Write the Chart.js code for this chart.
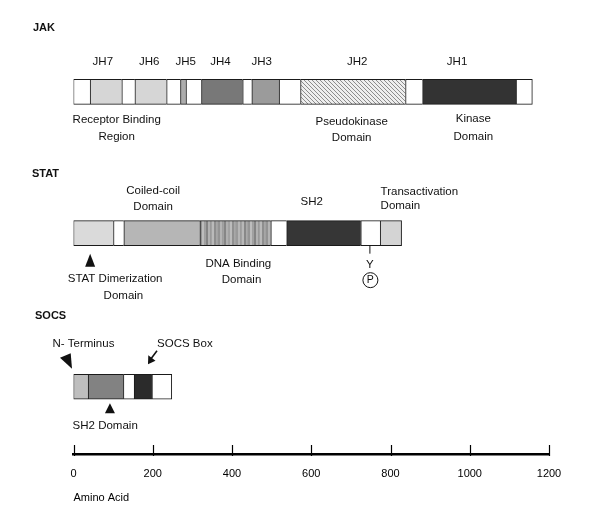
<!DOCTYPE html>
<html>
<head>
<meta charset="utf-8">
<script src="https://cdn.jsdelivr.net/npm/chart.js@4/dist/chart.umd.min.js"></script>
<style>
	html, body { margin:0; padding:0; background:#fff; }
	#wrap { position:relative; width:600px; height:516px; }
</style>
</head>
<body>
<div id="wrap"><canvas id="chart"></canvas></div>
<script>
// proteins and where each row sits on the (hidden) vertical scale
var proteins = ['JAK', 'STAT', 'SOCS'];
var rowPos   = [20.2, 51.3, 85.1];

// domain boundaries in amino acids, one domain name per segment ('' = linker)
var jakBounds  = [0, 42, 122, 155, 235, 270, 284, 323, 427, 450, 519, 573, 838, 881, 1117, 1158];
var jakDomains = ['', 'JH7', '', 'JH6', '', 'JH5', '', 'JH4', '', 'JH3', '', 'JH2', '', 'JH1', ''];

var statBounds  = [0, 101, 127, 319, 498, 538, 725, 774, 828];
var statDomains = ['Dimerization', '', 'Coiled-coil', 'DNA binding', '', 'SH2', '', 'Transactivation'];

var socsBounds  = [0, 37, 126, 153, 198, 248];
var socsDomains = ['N-terminus', 'SH2 domain', '', 'SOCS box', ''];

var axisMax  = 1200;
var axisStep = 200;

// ---------------------------------------------------------------

var FONT = '"Liberation Sans", Arial, sans-serif';

function hatchPattern(){
	var c = document.createElement('canvas'); c.width = 4; c.height = 4;
	var g = c.getContext('2d');
	g.fillStyle = '#eeeeee'; g.fillRect(0, 0, 4, 4);
	g.strokeStyle = '#8c8c8c'; g.lineWidth = 1;
	g.beginPath();
	g.moveTo(-1, -1); g.lineTo(5, 5);
	g.moveTo(-1, 3); g.lineTo(1, 5);
	g.moveTo(3, -1); g.lineTo(5, 1);
	g.stroke();
	return g.createPattern(c, 'repeat');
}

function stripePattern(){
	// irregular vertical stripes like the DNA binding box
	var cols = ['#9c9c9c','#b8b8b8','#888888','#aaaaaa','#959595','#bdbdbd','#a0a0a0','#848484',
				'#b2b2b2','#999999','#bababa','#8e8e8e','#a6a6a6','#939393','#b4b4b4','#9e9e9e',
				'#868686','#b0b0b0','#a2a2a2','#bcbcbc','#909090','#a8a8a8','#9a9a9a','#b6b6b6'];
	var c = document.createElement('canvas'); c.width = cols.length * 2; c.height = 2;
	var g = c.getContext('2d');
	g.fillStyle = '#a2a2a2'; g.fillRect(0, 0, c.width, 2);
	cols.forEach(function(col, i){
		g.fillStyle = col;
		g.fillRect(i * 2, 0, (i % 3 === 0) ? 1 : 2, 2);
	});
	return g.createPattern(c, 'repeat');
}

var fills = {
	'':               '#ffffff',
	'JH7':            '#d6d6d6',
	'JH6':            '#d6d6d6',
	'JH5':            '#acacac',
	'JH4':            '#787878',
	'JH3':            '#9b9b9b',
	'JH2':            hatchPattern(),
	'JH1':            '#333333',
	'Dimerization':   '#dadada',
	'Coiled-coil':    '#b6b6b6',
	'DNA binding':    stripePattern(),
	'SH2':            '#363636',
	'Transactivation':'#d4d4d4',
	'N-terminus':     '#bebebe',
	'SH2 domain':     '#828282',
	'SOCS box':       '#2b2b2b'
};

function rowDataset(name, bounds, domains, row){
	var last = domains.length - 1;
	return {
		label: name,
		data: domains.map(function(d, i){ return { x:[bounds[i], bounds[i + 1]], y:rowPos[row] }; }),
		backgroundColor: domains.map(function(d){ return fills[d]; }),
		borderColor: '#1a1a1a',
		borderWidth: function(ctx){
			return { top:1, bottom:1, left:1, right:(ctx.dataIndex === last) ? 1 : 0 };
		},
		borderSkipped: false,
		barThickness: 25,
		grouped: false
	};
}

// labels, arrows and the phospho-tyrosine drawn on top of the bars
var notesPlugin = {
	id: 'notes',
	afterDraw: function(chart){
		var ctx = chart.ctx,
			xs = chart.scales.x,
			ys = chart.scales.y,
			X = function(v){ return xs.getPixelForValue(v); },
			Y = function(r){ return ys.getPixelForValue(rowPos[r]); };

		ctx.save();
		ctx.fillStyle = '#111';
		ctx.strokeStyle = '#111';
		ctx.textBaseline = 'middle';

		// protein names
		ctx.font = 'bold 11px ' + FONT;
		ctx.textAlign = 'left';
		ctx.fillText(proteins[0], 33, Y(0) - 63.5);
		ctx.fillText(proteins[1], 32, Y(1) - 59.3);
		ctx.fillText(proteins[2], 35, Y(2) - 70.8);

		function txt(s, aa, row, dy, align){
			ctx.textAlign = align || 'center';
			ctx.fillText(s, X(aa), Y(row) + dy);
		}
		function tri(pts){
			ctx.beginPath();
			ctx.moveTo(pts[0][0], pts[0][1]);
			ctx.lineTo(pts[1][0], pts[1][1]);
			ctx.lineTo(pts[2][0], pts[2][1]);
			ctx.closePath();
			ctx.fill();
		}

		ctx.font = '11.5px ' + FONT;

		// JAK
		txt('JH7', 74, 0, -30);
		txt('JH6', 191, 0, -30);
		txt('JH5', 283, 0, -30);
		txt('JH4', 371, 0, -30);
		txt('JH3', 475, 0, -30);
		txt('JH2', 716, 0, -30);
		txt('JH1', 968, 0, -30);
		txt('Receptor Binding', 109, 0, 28.5);
		txt('Region', 109, 0, 45);
		txt('Pseudokinase', 702, 0, 30);
		txt('Domain', 702, 0, 46.5);
		txt('Kinase', 1009, 0, 27.5);
		txt('Domain', 1009, 0, 45);

		// STAT
		txt('Coiled-coil', 201, 1, -42.5);
		txt('Domain', 201, 1, -26);
		txt('SH2', 601, 1, -31);
		txt('Transactivation', 775, 1, -41, 'left');
		txt('Domain', 775, 1, -27, 'left');
		txt('STAT Dimerization', 105, 1, 46);
		txt('Domain', 126, 1, 62.5);
		txt('DNA Binding', 416, 1, 31);
		txt('Domain', 424, 1, 47);

		var y1 = Y(1), px = X(748);
		ctx.lineWidth = 1;
		ctx.beginPath(); ctx.moveTo(px, y1 + 12.5); ctx.lineTo(px, y1 + 20.5); ctx.stroke();
		txt('Y', 748, 1, 31.5);
		ctx.beginPath(); ctx.arc(px + 0.5, y1 + 47, 7.5, 0, Math.PI * 2); ctx.stroke();
		ctx.font = '10.5px ' + FONT;
		txt('P', 749, 1, 47.3);
		ctx.font = '11.5px ' + FONT;

		var dx = X(42);
		tri([[dx, y1 + 20.5], [dx - 5, y1 + 33.5], [dx + 5, y1 + 33.5]]);

		// SOCS
		var y2 = Y(2), s0 = X(0);
		txt('N- Terminus', 25, 2, -42.5);
		txt('SOCS Box', 281, 2, -43);
		txt('SH2 Domain', 80, 2, 39);
		tri([[s0 - 13.5, y2 - 29], [s0 - 2.8, y2 - 33.5], [s0 - 1.5, y2 - 18]]);

		var bx = X(188);
		tri([[bx, y2 - 22.5], [bx + 0.3, y2 - 31.5], [bx + 7.5, y2 - 26]]);
		ctx.lineWidth = 1.5;
		ctx.beginPath(); ctx.moveTo(bx + 3, y2 - 28); ctx.lineTo(bx + 9, y2 - 36); ctx.stroke();

		var sx = X(92);
		tri([[sx, y2 + 16.5], [sx - 5, y2 + 26.5], [sx + 5, y2 + 26.5]]);

		// upward tick marks on the amino-acid axis
		ctx.lineWidth = 1.2;
		ctx.strokeStyle = '#000';
		xs.ticks.forEach(function(t){
			var x = Math.round(X(t.value)) + 0.5;
			ctx.beginPath();
			ctx.moveTo(x, chart.chartArea.bottom - 9.5);
			ctx.lineTo(x, chart.chartArea.bottom + 1.5);
			ctx.stroke();
		});

		ctx.restore();
	}
};

new Chart(document.getElementById('chart'), {
	type: 'bar',
	data: {
		datasets: [
			rowDataset(proteins[0], jakBounds, jakDomains, 0),
			rowDataset(proteins[1], statBounds, statDomains, 1),
			rowDataset(proteins[2], socsBounds, socsDomains, 2)
		]
	},
	options: {
		indexAxis: 'y',
		responsive: true,
		maintainAspectRatio: false,
		animation: false,
		layout: { padding: { left:73.5, right:51, top:0, bottom:7.4 } },
		plugins: {
			legend: { display:false },
			tooltip: { enabled:false }
		},
		scales: {
			y: {
				type: 'linear',
				display: false,
				reverse: true,
				offset: false,
				min: 0,
				max: 100
			},
			x: {
				type: 'linear',
				position: 'bottom',
				min: 0,
				max: axisMax,
				grid: { display:false, drawTicks:false },
				border: { display:true, width:2.5, color:'#000' },
				ticks: {
					stepSize: axisStep,
					padding: 12.5,
					color: '#000',
					maxRotation: 0,
					font: { size:11, family:FONT },
					callback: function(v){ return String(v); }
				},
				title: {
					display: true,
					text: 'Amino Acid',
					align: 'start',
					color: '#000',
					padding: { top:-1.3, bottom:4 },
					font: { size:11, family:FONT }
				}
			}
		}
	},
	plugins: [notesPlugin]
});
</script>
</body>
</html>
